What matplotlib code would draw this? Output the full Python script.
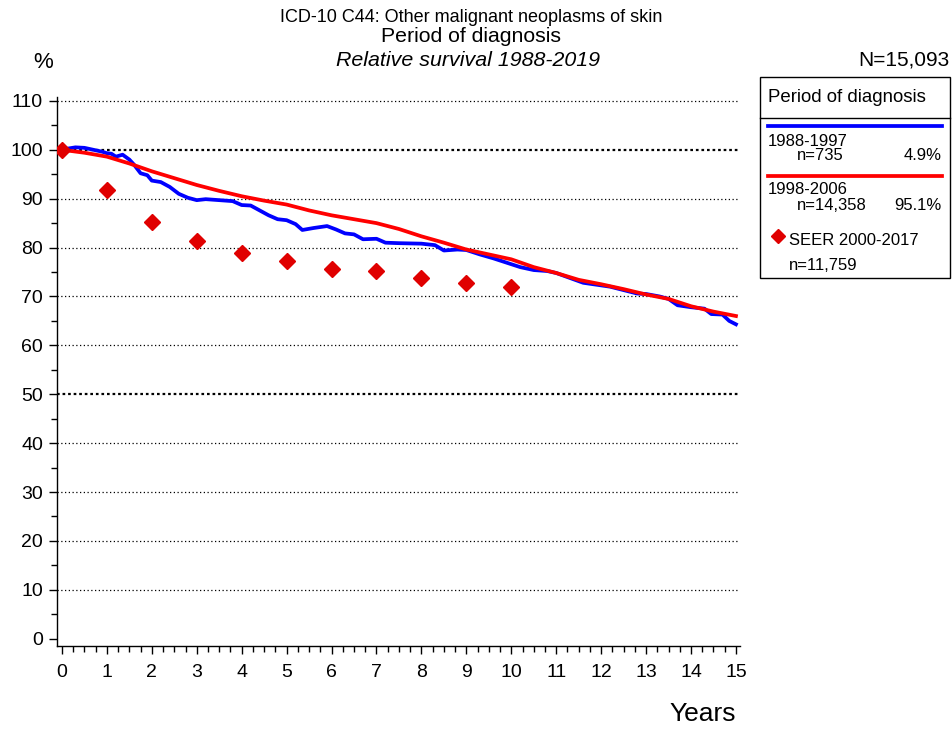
import matplotlib
matplotlib.use("Agg")
import matplotlib.pyplot as plt
from matplotlib.lines import Line2D
from matplotlib.patches import Rectangle
from matplotlib.ticker import MultipleLocator

plt.rcParams['font.family'] = ['Liberation Sans', 'DejaVu Sans']

# Relative survival, diagnosis period 1988-1997
years_8897 = [0, 0.1, 0.3, 0.5, 0.7, 0.9, 1.0, 1.1, 1.2, 1.35, 1.5, 1.6, 1.75, 1.9, 2.0,
              2.2, 2.4, 2.6, 2.8, 3.0, 3.2, 3.5, 3.8, 4.0, 4.2, 4.4, 4.6, 4.8, 5.0,
              5.2, 5.35, 5.6, 5.9, 6.1, 6.3, 6.5, 6.7, 7.0, 7.2, 7.5, 8.0, 8.3, 8.5,
              8.8, 9.0, 9.3, 9.6, 9.9, 10.2, 10.5, 10.8, 11.0, 11.3, 11.6, 11.9,
              12.2, 12.5, 12.8, 13.0, 13.3, 13.5, 13.7, 14.0, 14.3, 14.45, 14.7,
              14.85, 15.0]
surv_8897 = [100, 100.2, 100.5, 100.4, 100.0, 99.6, 99.3, 99.2, 98.6, 99.0, 98.0, 97.0,
             95.2, 94.8, 93.7, 93.4, 92.4, 91.0, 90.2, 89.7, 89.9, 89.7, 89.5, 88.7,
             88.6, 87.6, 86.6, 85.8, 85.6, 84.8, 83.6, 84.0, 84.4, 83.7, 82.9, 82.7,
             81.7, 81.8, 81.0, 80.9, 80.8, 80.5, 79.4, 79.6, 79.5, 78.6, 77.8, 76.9,
             76.0, 75.4, 75.2, 74.8, 73.8, 72.8, 72.4, 72.0, 71.3, 70.6, 70.5, 70.0,
             69.5, 68.2, 67.8, 67.5, 66.4, 66.3, 65.0, 64.3]

# Relative survival, diagnosis period 1998-2006
years_9806 = [0, 0.5, 1, 1.5, 2, 2.5, 3, 3.5, 4, 4.5, 5, 5.5, 6, 6.5, 7, 7.5, 8, 8.5,
              9, 9.5, 10, 10.5, 11, 11.5, 12, 12.5, 13, 13.5, 14, 14.5, 15]
surv_9806 = [100, 99.4, 98.6, 97.2, 95.6, 94.2, 92.8, 91.6, 90.5, 89.6, 88.8, 87.6,
             86.6, 85.8, 85.0, 83.8, 82.3, 81.0, 79.6, 78.6, 77.6, 76.0, 74.8, 73.4,
             72.5, 71.5, 70.4, 69.5, 68.0, 66.9, 66.0]

# SEER 2000-2017 reference points
seer_years = [0, 1, 2, 3, 4, 5, 6, 7, 8, 9, 10]
seer_surv = [100, 91.8, 85.2, 81.4, 78.9, 77.2, 75.7, 75.3, 73.8, 72.7, 72.0]

W, H = 953, 729
fig = plt.figure(figsize=(W / 100, H / 100), dpi=100)
ax = fig.add_axes([57 / W, 1 - 646 / H, (740 - 57) / W, (646 - 97) / H])

ax.set_xlim(-0.11, 15.09)
ax.set_ylim(-1.5, 110.8)

for v in range(10, 111, 10):
    bold = v in (50, 100)
    ax.axhline(v, color='black', linestyle=(0, (1, 2)) if not bold else (0, (1.2, 1.3)),
               linewidth=1.6 if bold else 0.9, zorder=1)

blue = '#0000ff'
red = '#ff0000'
ax.plot(years_8897, surv_8897, color=blue, linewidth=2.7, zorder=3, solid_joinstyle='round')
ax.plot(years_9806, surv_9806, color=red, linewidth=2.7, zorder=4, solid_joinstyle='round')
ax.plot(seer_years, seer_surv, linestyle='none', marker='D', markersize=8.5,
        color='#e00000', zorder=5)

for s in ('top', 'right'):
    ax.spines[s].set_visible(False)
for s in ('left', 'bottom'):
    ax.spines[s].set_linewidth(1.0)

ax.xaxis.set_major_locator(MultipleLocator(1))
ax.xaxis.set_minor_locator(MultipleLocator(0.25))
ax.yaxis.set_major_locator(MultipleLocator(10))
ax.yaxis.set_minor_locator(MultipleLocator(5))
ax.tick_params(axis='both', which='major', direction='out', length=6, width=1,
               labelsize=14)
ax.tick_params(axis='both', which='minor', direction='out', length=4, width=1)
ax.tick_params(axis='x', pad=7)
ax.tick_params(axis='y', pad=4)

# Titles and annotations
fig.text(471 / W, 1 - 18 / H, 'ICD-10 C44: Other malignant neoplasms of skin',
         ha='center', va='center', fontsize=13)
fig.text(471 / W, 1 - 37 / H, 'Period of diagnosis', ha='center', va='center', fontsize=15.3)
fig.text(468 / W, 1 - 60 / H, 'Relative survival 1988-2019', ha='center', va='center',
         fontsize=15.4, style='italic')
fig.text(43 / W, 1 - 63 / H, '%', ha='center', va='center', fontsize=16)
fig.text(950 / W, 1 - 60 / H, 'N=15,093', ha='right', va='center', fontsize=15)
fig.text(703 / W, 1 - 714 / H, 'Years', ha='center', va='center', fontsize=19)

# Legend panel
box_l, box_r, box_t, box_b = 760, 950, 77, 278
fig.add_artist(Rectangle((box_l / W, 1 - box_b / H), (box_r - box_l) / W,
                         (box_b - box_t) / H, transform=fig.transFigure,
                         fill=False, edgecolor='black', linewidth=1.0))
fig.add_artist(Line2D([box_l / W, box_r / W], [1 - 118 / H, 1 - 118 / H],
                      transform=fig.transFigure, color='black', linewidth=1.0))
fig.text(768 / W, 1 - 97 / H, 'Period of diagnosis', ha='left', va='center', fontsize=13.4)

leg_fs = 12
fig.add_artist(Line2D([768 / W, 942 / W], [1 - 126 / H, 1 - 126 / H],
                      transform=fig.transFigure, color=blue, linewidth=2.7))
fig.text(768 / W, 1 - 141 / H, '1988-1997', ha='left', va='center', fontsize=leg_fs)
fig.text(797 / W, 1 - 156 / H, 'n=735', ha='left', va='center', fontsize=leg_fs)
fig.text(942 / W, 1 - 156 / H, '4.9%', ha='right', va='center', fontsize=leg_fs)

fig.add_artist(Line2D([768 / W, 942 / W], [1 - 176 / H, 1 - 176 / H],
                      transform=fig.transFigure, color=red, linewidth=2.7))
fig.text(768 / W, 1 - 190 / H, '1998-2006', ha='left', va='center', fontsize=leg_fs)
fig.text(797 / W, 1 - 205 / H, 'n=14,358', ha='left', va='center', fontsize=leg_fs)
fig.text(942 / W, 1 - 205 / H, '95.1%', ha='right', va='center', fontsize=leg_fs)

fig.add_artist(Line2D([778 / W], [1 - 236 / H], transform=fig.transFigure,
                      marker='D', markersize=7, color='#e00000', linestyle='none'))
fig.text(789 / W, 1 - 240 / H, 'SEER 2000-2017', ha='left', va='center', fontsize=leg_fs)
fig.text(789 / W, 1 - 265 / H, 'n=11,759', ha='left', va='center', fontsize=leg_fs)

fig.savefig('out.png', dpi=100)
